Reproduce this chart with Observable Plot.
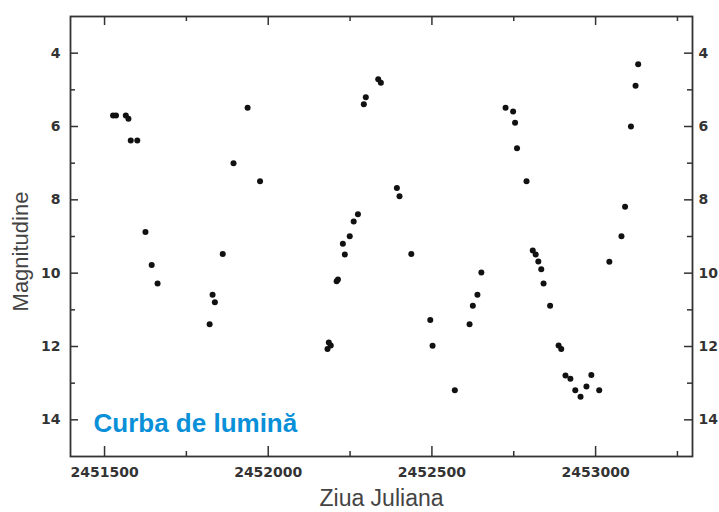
<!DOCTYPE html>
<html>
<head>
<meta charset="utf-8">
<script src="https://cdn.jsdelivr.net/npm/d3@7"></script>
<script src="https://cdn.jsdelivr.net/npm/@observablehq/plot@0.6"></script>
<style>
  html, body { margin: 0; padding: 0; background: #fff; overflow: hidden; }
  #chart svg { display: block; overflow: hidden; }
</style>
</head>
<body>
<div id="chart"></div>
<script>
// Julian day of each observation
const julianDays = [
  2451526, 2451535, 2451565, 2451573, 2451580, 2451600, 2451625, 2451644, 2451662,
  2451821, 2451830, 2451837, 2451861, 2451894, 2451937, 2451975,
  2452181, 2452185, 2452191, 2452209, 2452213, 2452228, 2452234, 2452249, 2452261,
  2452274, 2452292, 2452298, 2452336, 2452344, 2452393, 2452401, 2452437,
  2452495, 2452502, 2452570, 2452615, 2452625, 2452639, 2452651,
  2452725, 2452748, 2452754, 2452760, 2452789, 2452808, 2452817, 2452825, 2452834,
  2452841, 2452861, 2452887, 2452895, 2452908, 2452923, 2452938, 2452954, 2452972,
  2452987, 2453011, 2453042, 2453079, 2453090, 2453108, 2453122, 2453130
];
// Magnitude of each observation
const magnitudes = [
  5.70, 5.70, 5.70, 5.79, 6.38, 6.38, 8.88, 9.78, 10.28,
  11.39, 10.59, 10.79, 9.48, 7.00, 5.49, 7.49,
  12.07, 11.89, 11.97, 10.22, 10.17, 9.20, 9.49, 8.99, 8.59,
  8.39, 5.39, 5.20, 4.71, 4.81, 7.68, 7.90, 9.48,
  11.28, 11.98, 13.19, 11.39, 10.89, 10.59, 9.98,
  5.49, 5.59, 5.90, 6.59, 7.49, 9.38, 9.49, 9.68, 9.89,
  10.28, 10.89, 11.97, 12.07, 12.79, 12.88, 13.19, 13.37, 13.09,
  12.78, 13.19, 9.69, 8.99, 8.19, 6.00, 4.89, 4.30
];
const xMajorTicks = [2451500, 2452000, 2452500, 2453000];
const xMinorTicks = [2451750, 2452250, 2452750, 2453250];
const yMajorTicks = [4, 6, 8, 10, 12, 14];
const yMinorTicks = [5, 7, 9, 11, 13];
const xDomain = [2451396, 2453296];
const yDomain = [3, 15];
const xTitle = "Ziua Juliana";
const yTitle = "Magnitudine";
const annotation = "Curba de lumină";

const data = julianDays.map((d, i) => ({jd: d, mag: magnitudes[i]}));

const W = 719, H = 512;
const mL = 70, mR = 27, mT = 16, mB = 56;
const plotW = W - mL - mR, plotH = H - mT - mB;
const axisColor = "#333";
const tickFont = {fontFamily: "DejaVu Sans", fontWeight: "bold", fontSize: 14};

const chart = Plot.plot({
  width: W,
  height: H,
  marginLeft: mL,
  marginRight: mR,
  marginTop: mT,
  marginBottom: mB,
  style: {fontFamily: "Liberation Sans, Arial, sans-serif", background: "#fff", overflow: "hidden"},
  x: {domain: xDomain},
  y: {domain: yDomain, reverse: true},
  marks: [
    // tick marks pointing inward
    Plot.ruleX(xMajorTicks, {insetTop: plotH - 10, stroke: axisColor, strokeWidth: 1.5}),
    Plot.ruleX(xMajorTicks, {insetBottom: plotH - 9, stroke: axisColor, strokeWidth: 1.5}),
    Plot.ruleX(xMinorTicks, {insetTop: plotH - 5, stroke: axisColor, strokeWidth: 1.5}),
    Plot.ruleX(xMinorTicks, {insetBottom: plotH - 5, stroke: axisColor, strokeWidth: 1.5}),
    Plot.ruleY(yMajorTicks, {insetRight: plotW - 8, stroke: axisColor, strokeWidth: 1.5}),
    Plot.ruleY(yMajorTicks, {insetLeft: plotW - 8, stroke: axisColor, strokeWidth: 1.5}),
    Plot.ruleY(yMinorTicks, {insetRight: plotW - 5, stroke: axisColor, strokeWidth: 1.5}),
    Plot.ruleY(yMinorTicks, {insetLeft: plotW - 5, stroke: axisColor, strokeWidth: 1.5}),
    Plot.frame({stroke: axisColor, strokeWidth: 1.8}),
    Plot.axisX({ticks: xMajorTicks, tickSize: 0, tickPadding: 11, tickFormat: d => String(d), label: null, color: axisColor, ...tickFont}),
    Plot.axisY({anchor: "left", ticks: yMajorTicks, tickSize: 0, tickPadding: 10, label: null, color: axisColor, ...tickFont}),
    Plot.axisY({anchor: "right", ticks: yMajorTicks, tickSize: 0, tickPadding: 6, label: null, color: axisColor, ...tickFont}),
    Plot.dot(data, {x: "jd", y: "mag", r: 3, fill: "#111", stroke: null}),
    Plot.text([annotation], {frameAnchor: "bottom-left", dx: 23, dy: -25, lineAnchor: "bottom", textAnchor: "start",
      fontSize: 26, fontWeight: "bold", fill: "#0a90d8", fontFamily: "Liberation Sans, Arial, sans-serif"}),
    Plot.text([xTitle], {frameAnchor: "bottom", dy: 49, fontSize: 23, fill: "#444", fontFamily: "Liberation Sans, Arial, sans-serif"}),
    Plot.text([yTitle], {frameAnchor: "left", dx: -50, dy: 15, rotate: -90, textAnchor: "middle", fontSize: 22, fill: "#444", fontFamily: "Liberation Sans, Arial, sans-serif"})
  ]
});
document.getElementById("chart").appendChild(chart);
</script>
</body>
</html>
